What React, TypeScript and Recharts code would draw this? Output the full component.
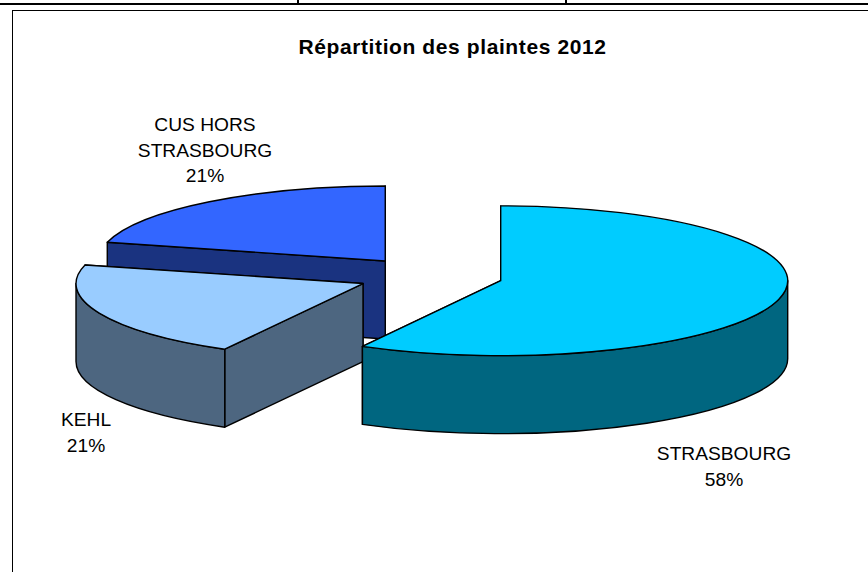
import { PieChart, Pie } from 'recharts';

const NAMES = ['CUS HORS STRASBOURG', 'KEHL', 'STRASBOURG'];
const SHARES = [21, 21, 58];
const TOP_COLORS = ['#3366ff', '#99ccff', '#00ccff'];
const WALL_COLORS = ['#1a3380', '#4d6680', '#006680'];

const LABEL_LINES = [['CUS HORS', 'STRASBOURG'], ['KEHL'], ['STRASBOURG']];
const LABEL_X = [205, 86, 724];
const LABEL_Y = [131, 426, 460];

const data = NAMES.map((name, i) => ({
  name,
  value: SHARES[i],
  fill: TOP_COLORS[i],
  wall: WALL_COLORS[i],
  lines: LABEL_LINES[i],
  labelX: LABEL_X[i],
  labelY: LABEL_Y[i],
}));

const FLATTEN = 0.261;
const DEPTH = 78;
const EXPLODE = 73;
const FONT = '"Liberation Sans", Arial, sans-serif';

function Slice3D(props: any) {
  const { cx, cy, outerRadius, startAngle, endAngle, fill } = props;
  const wall = props.wall ?? props.payload?.wall;
  const a0 = Math.min(startAngle, endAngle);
  const a1 = Math.max(startAngle, endAngle);
  const mid = (((a0 + a1) / 2) * Math.PI) / 180;

  // move the slice out along its middle, in the flattened plane
  const ox = cx + EXPLODE * Math.cos(mid);
  const oy = cy - EXPLODE * FLATTEN * Math.sin(mid);
  const rx = outerRadius;
  const ry = outerRadius * FLATTEN;
  const pt = (deg: number) => {
    const r = (deg * Math.PI) / 180;
    return [ox + rx * Math.cos(r), oy - ry * Math.sin(r)];
  };
  const [x0, y0] = pt(a0);
  const [x1, y1] = pt(a1);
  const large = a1 - a0 > 180 ? 1 : 0;

  const cut = ([x, y]: number[]) =>
    `M${ox},${oy} L${x},${y} L${x},${y + DEPTH} L${ox},${oy + DEPTH} Z`;

  // outer rim is only visible on the front half
  let rim = null;
  for (const shift of [0, 360]) {
    const lo = Math.max(a0, 180 + shift);
    const hi = Math.min(a1, 360 + shift);
    if (hi > lo) {
      const [lx, ly] = pt(lo);
      const [hx, hy] = pt(hi);
      rim = `M${lx},${ly} A${rx},${ry} 0 0 0 ${hx},${hy} L${hx},${hy + DEPTH} A${rx},${ry} 0 0 1 ${lx},${ly + DEPTH} Z`;
    }
  }

  return (
    <g stroke="#000" strokeWidth={1.4} strokeLinejoin="round">
      <path d={cut([x0, y0])} fill={wall} />
      <path d={cut([x1, y1])} fill={wall} />
      {rim && <path d={rim} fill={wall} />}
      <path d={`M${ox},${oy} L${x0},${y0} A${rx},${ry} 0 ${large} 0 ${x1},${y1} Z`} fill={fill} />
    </g>
  );
}

function SliceLabel(props: any) {
  const entry = props.payload?.lines ? props.payload : props;
  const lines = [...entry.lines, `${entry.value}%`];
  return (
    <text x={entry.labelX} y={entry.labelY} textAnchor="middle" fontFamily={FONT} fontSize={19.2} fill="#000">
      {lines.map((line: string, i: number) => (
        <tspan key={line} x={entry.labelX} dy={i === 0 ? 0 : 25.5}>
          {line}
        </tspan>
      ))}
    </text>
  );
}

export default function App() {
  return (
    <div style={{ position: 'absolute', left: 0, top: 0, width: 868, height: 572, background: '#fff', overflow: 'hidden' }}>
      <div style={{ position: 'absolute', left: 0, top: 3, width: 868, height: 2, background: '#000' }} />
      <div style={{ position: 'absolute', left: 297, top: 0, width: 2, height: 4, background: '#000' }} />
      <div style={{ position: 'absolute', left: 565, top: 0, width: 2, height: 4, background: '#000' }} />
      <div style={{ position: 'absolute', left: 12, top: 10, width: 856, height: 562, borderLeft: '1.5px solid #000', borderTop: '1.5px solid #000', boxSizing: 'border-box' }} />
      <div style={{ position: 'absolute', left: 0, top: 0 }}>
        <PieChart width={868} height={572} margin={{ top: 0, right: 0, bottom: 0, left: 0 }}>
          <text x={452.5} y={54} textAnchor="middle" fontFamily={FONT} fontWeight="bold" fontSize={21} letterSpacing={0.6} fill="#000">
            Répartition des plaintes 2012
          </text>
          <Pie
            data={data}
            dataKey="value"
            nameKey="name"
            cx={430}
            cy={276}
            innerRadius={0}
            outerRadius={287}
            startAngle={90}
            endAngle={450}
            stroke="none"
            shape={Slice3D}
            label={SliceLabel}
            labelLine={false}
            isAnimationActive={false}
          />
        </PieChart>
      </div>
    </div>
  );
}
